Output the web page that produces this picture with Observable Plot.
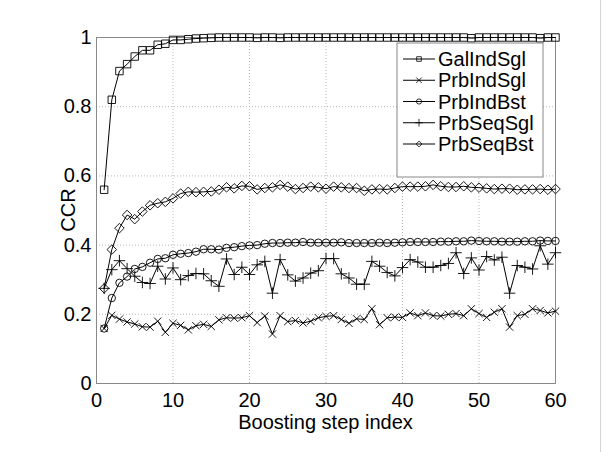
<!DOCTYPE html>
<html><head><meta charset="utf-8">
<script src="https://cdn.jsdelivr.net/npm/d3@7"></script>
<script src="https://cdn.jsdelivr.net/npm/@observablehq/plot@0.6"></script>
<style>
body{margin:0;background:#fff;}
#chart{position:relative;width:606px;height:452px;}
#edge{position:absolute;left:600px;top:0;width:1px;height:452px;background:#d4d4d4;}
</style>
</head><body><div id="chart"><div id="edge"></div></div>
<script>
const steps = [1,2,3,4,5,6,7,8,9,10,11,12,13,14,15,16,17,18,19,20,21,22,23,24,25,26,27,28,29,30,
  31,32,33,34,35,36,37,38,39,40,41,42,43,44,45,46,47,48,49,50,51,52,53,54,55,56,57,58,59,60];
const seriesNames = ["GalIndSgl","PrbIndSgl","PrbIndBst","PrbSeqSgl","PrbSeqBst"];
const seriesSymbols = ["square","times","circle","plus","diamond2"];

const galIndSgl = [0.56,0.82,0.903,0.923,0.945,0.963,0.963,0.979,0.982,0.993,
  0.993,0.995,0.997,0.998,0.999,1,1,1,1,1,
  0.999,1,1,0.999,1,1,1,1,1,1,
  1,1,1,1,1,1,1,1,1,1,
  1,1,1,1,1,1,1,1,0.998,1,
  1,1,1,1,1,1,1,0.998,1,1];
const prbIndSgl = [0.159,0.197,0.186,0.178,0.172,0.164,0.163,0.180,0.148,0.174,
  0.168,0.155,0.167,0.171,0.165,0.184,0.190,0.189,0.190,0.196,
  0.176,0.195,0.143,0.196,0.179,0.182,0.175,0.180,0.190,0.194,
  0.196,0.185,0.174,0.187,0.185,0.216,0.170,0.190,0.192,0.191,
  0.204,0.196,0.204,0.196,0.195,0.200,0.202,0.196,0.216,0.202,
  0.191,0.206,0.216,0.163,0.196,0.200,0.216,0.211,0.204,0.209];
const prbIndBst = [0.159,0.247,0.291,0.309,0.331,0.337,0.349,0.360,0.362,0.372,
  0.375,0.377,0.381,0.388,0.388,0.387,0.392,0.394,0.397,0.399,
  0.400,0.404,0.406,0.406,0.407,0.407,0.409,0.407,0.407,0.407,
  0.407,0.408,0.406,0.406,0.406,0.406,0.407,0.406,0.407,0.408,
  0.409,0.409,0.409,0.409,0.410,0.410,0.411,0.411,0.413,0.412,
  0.411,0.411,0.410,0.410,0.410,0.411,0.411,0.413,0.412,0.412];
const prbSeqSgl = [0.275,0.329,0.355,0.332,0.310,0.292,0.289,0.339,0.302,0.334,
  0.300,0.312,0.318,0.317,0.297,0.281,0.360,0.315,0.336,0.315,
  0.343,0.353,0.261,0.358,0.314,0.296,0.305,0.319,0.326,0.361,
  0.361,0.317,0.305,0.287,0.287,0.353,0.339,0.321,0.311,0.335,
  0.358,0.351,0.336,0.336,0.341,0.347,0.378,0.318,0.363,0.328,
  0.367,0.357,0.365,0.261,0.341,0.336,0.331,0.398,0.345,0.378];
const prbSeqBst = [0.275,0.387,0.449,0.487,0.475,0.497,0.515,0.521,0.525,0.535,
  0.549,0.554,0.553,0.554,0.555,0.560,0.567,0.564,0.571,0.570,
  0.561,0.565,0.567,0.574,0.569,0.562,0.565,0.569,0.567,0.563,
  0.569,0.567,0.565,0.565,0.557,0.561,0.562,0.561,0.565,0.569,
  0.569,0.569,0.570,0.574,0.570,0.568,0.568,0.570,0.567,0.566,
  0.564,0.562,0.563,0.563,0.560,0.561,0.561,0.562,0.560,0.562];

const xTicks = [0,10,20,30,40,50,60];
const yTicks = [0,0.2,0.4,0.6,0.8,1];
const xLabel = "Boosting step index";
const yLabel = "CCR";

const valueArrays = [galIndSgl, prbIndSgl, prbIndBst, prbSeqSgl, prbSeqBst];
const rows = [];
seriesNames.forEach((name, k) => valueArrays[k].forEach((v, i) => rows.push({series: name, step: steps[i], ccr: v})));

const W = 606, H = 452, mL = 96, mR = 51, mT = 37, mB = 69;
const font = "'Liberation Sans', Arial, Helvetica, sans-serif";
const symR = {square: 4.2, times: 3.4, circle: 3.7, plus: 3.8, diamond2: 4.3};

const marks = [
  Plot.gridX(xTicks, {stroke: "#b8b8b8", strokeOpacity: 1, strokeDasharray: "1,2"}),
  Plot.gridY(yTicks, {stroke: "#b8b8b8", strokeOpacity: 1, strokeDasharray: "1,2"}),
  Plot.frame({stroke: "#888"}),
  Plot.axisX(xTicks, {tickSize: 0, tickPadding: 9, fontSize: 20, tickFormat: d => String(d), label: null}),
  Plot.axisY(yTicks, {tickSize: 0, tickPadding: 5, fontSize: 20, tickFormat: d => String(d), label: null}),
  Plot.line(rows, {x: "step", y: "ccr", z: "series", stroke: "black", strokeWidth: 1}),
  ...seriesNames.map((name, k) => Plot.dot(rows.filter(r => r.series === name), {
    x: "step", y: "ccr", symbol: seriesSymbols[k], r: symR[seriesSymbols[k]],
    stroke: "black", fill: "none", strokeWidth: 0.9
  }))
];

const plot = Plot.plot({
  width: W, height: H,
  marginLeft: mL, marginRight: mR, marginTop: mT, marginBottom: mB,
  x: {domain: [0, 60]},
  y: {domain: [0, 1]},
  style: {fontFamily: font, fontSize: "20px", background: "white", color: "black"},
  marks
});
document.getElementById("chart").appendChild(plot);

const svg = d3.select(plot);
// Axis titles
const frameMidX = (mL + (W - mR)) / 2, frameMidY = (mT + (H - mB)) / 2;
svg.append("text").attr("font-family", font).attr("font-size", 20).attr("text-anchor", "middle")
  .attr("transform", `translate(${mL - 28},${frameMidY}) rotate(-90)`).attr("dy", "0.35em").text(yLabel);
svg.append("text").attr("font-family", font).attr("font-size", 20).attr("text-anchor", "middle")
  .attr("x", frameMidX).attr("y", (H - mB) + 39).attr("dy", "0.35em").text(xLabel);

// Legend
const g = svg.append("g").attr("font-family", font).attr("font-size", 20).attr("text-anchor", "start");
const bw = 146, bh = 134;
const bx = (W - mR) - 12 - bw, by = mT + 6;
g.append("rect").attr("x", bx).attr("y", by).attr("width", bw).attr("height", bh)
  .attr("fill", "white").attr("stroke", "#888");
const symMap = {square: d3.symbolSquare, times: d3.symbolTimes, circle: d3.symbolCircle, plus: d3.symbolPlus, diamond2: d3.symbolDiamond2};
seriesNames.forEach((name, k) => {
  const cy = by + 16 + 21.25 * k;
  g.append("line").attr("x1", bx + 6).attr("x2", bx + 38).attr("y1", cy).attr("y2", cy)
    .attr("stroke", "black").attr("stroke-width", 1);
  const s = seriesSymbols[k];
  g.append("path").attr("d", d3.symbol(symMap[s], 2.6 * 2.6 * Math.PI)())
    .attr("transform", `translate(${bx + 22},${cy})`)
    .attr("fill", "none").attr("stroke", "black").attr("stroke-width", 0.8);
  g.append("text").attr("x", bx + 41).attr("y", cy).attr("dy", "0.35em").attr("text-anchor", "start").text(name);
});
</script>
</body></html>
